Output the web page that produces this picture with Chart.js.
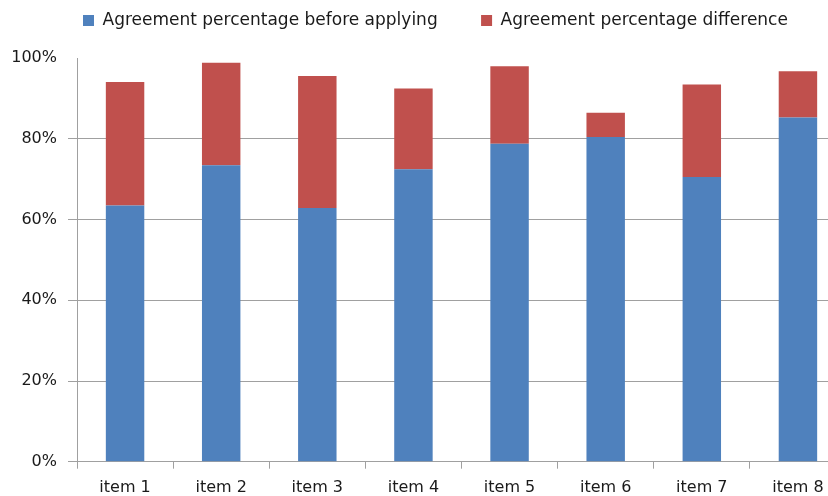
<!DOCTYPE html>
<html>
<head>
<meta charset="utf-8">
<script src="https://cdn.jsdelivr.net/npm/chart.js@4/dist/chart.umd.min.js"></script>
<style>
  html, body { margin: 0; padding: 0; background: #fff; overflow: hidden; }
  #wrap { position: relative; width: 848px; height: 496px; }
</style>
</head>
<body>
<div id="wrap"><canvas id="chart"></canvas></div>
<script>
// categories and values (percent)
const categories = ['item 1', 'item 2', 'item 3', 'item 4', 'item 5', 'item 6', 'item 7', 'item 8'];
const beforeApplying = [63.5, 73.5, 62.9, 72.5, 78.8, 80.5, 70.6, 85.3];
const difference = [30.6, 25.4, 32.7, 20.0, 19.2, 6.0, 22.9, 11.5];
const seriesNames = ['Agreement percentage before applying', 'Agreement percentage difference'];
const yTicks = [0, 20, 40, 60, 80, 100];

const family = '"DejaVu Sans", sans-serif';
const textColor = '#1a1a1a';
const gridColor = '#a0a0a0';

let el = document.querySelector('#chart');
let chart = new Chart(el, {
    type: 'bar',
    data: {
        labels: categories,
        datasets: [
            { label: seriesNames[0], data: beforeApplying, backgroundColor: '#4f81bd' },
            { label: seriesNames[1], data: difference, backgroundColor: '#c0504d' }
        ]
    },
    options: {
        responsive: true,
        maintainAspectRatio: false,
        animation: false,
        layout: { padding: { left: 0, right: 2, top: 6, bottom: 0 } },
        datasets: { bar: { barPercentage: 0.4, categoryPercentage: 1 } },
        plugins: {
            tooltip: { enabled: false },
            legend: {
                position: 'top',
                fullSize: false,
                align: 'start',
                labels: {
                    font: { family: family, size: 17 },
                    color: textColor,
                    boxWidth: 11,
                    boxHeight: 11,
                    padding: 6,
                    generateLabels: (c) => {
                        let items = Chart.defaults.plugins.legend.labels.generateLabels(c);
                        // wider gap between the two entries
                        items[0].text += '\u2003\u2003\u2009';
                        return items;
                    }
                }
            }
        },
        scales: {
            x: {
                stacked: true,
                grid: {
                    offset: true,
                    drawOnChartArea: false,
                    drawTicks: true,
                    tickLength: 7,
                    color: gridColor
                },
                border: { color: gridColor },
                ticks: { font: { family: family, size: 16, lineHeight: 1 }, color: textColor, padding: 11 },
                afterFit: (axis) => { axis.height = 34.3; }
            },
            y: {
                stacked: true,
                min: 0,
                max: 100,
                afterBuildTicks: (axis) => {
                    axis.ticks = yTicks.map(v => ({ value: v }));
                },
                grid: {
                    color: (ctx) => (ctx.tick && ctx.tick.value === 100 ? 'rgba(0,0,0,0)' : gridColor),
                    tickLength: 9
                },
                border: { color: gridColor },
                ticks: {
                    font: { family: family, size: 16 },
                    color: textColor,
                    padding: 11,
                    callback: (v) => v + '%'
                },
                afterFit: (axis) => { axis.width = 77; }
            }
        }
    }
});

// leave room under the legend like the original
const legendProto = Object.getPrototypeOf(chart.legend);
chart.legend.fit = function () {
    legendProto.fit.call(this);
    this.height = 52.3;
};
chart.update();
</script>
</body>
</html>
